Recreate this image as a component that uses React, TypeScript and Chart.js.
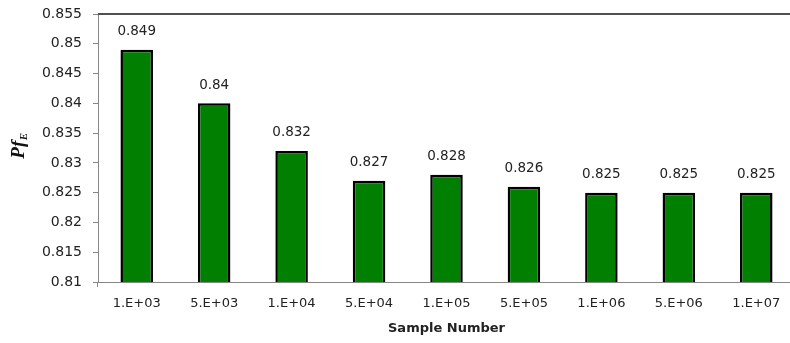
import React, { useEffect, useRef } from "react";
import { Chart, registerables } from "chart.js";

Chart.register(...registerables);

const categories = ["1.E+03", "5.E+03", "1.E+04", "5.E+04", "1.E+05", "5.E+05", "1.E+06", "5.E+06", "1.E+07"];
const pfValues = [0.849, 0.84, 0.832, 0.827, 0.828, 0.826, 0.825, 0.825, 0.825];
const yMin = 0.81;
const yMax = 0.855;
const yStep = 0.005;
const xTitle = "Sample Number";

const TEXT = "#222222";
const AXIS = "#868686";
const FONT = '"DejaVu Sans", sans-serif';

const fmt = (v: number) => String(parseFloat(v.toFixed(3)));

// Value labels above the bars, the frame line on top and the Pf_E axis title
const decorations = {
  id: "decorations",
  afterDatasetsDraw(chart: any) {
    const { ctx, chartArea } = chart;
    const meta = chart.getDatasetMeta(0);
    ctx.save();
    ctx.fillStyle = TEXT;
    ctx.font = `13.5px ${FONT}`;
    ctx.textAlign = "center";
    ctx.textBaseline = "middle";
    meta.data.forEach((bar: any, i: number) => {
      ctx.fillText(fmt(pfValues[i]), bar.x, bar.y - 18);
    });

    // frame line along the top of the plot area
    ctx.strokeStyle = "#505050";
    ctx.lineWidth = 2;
    ctx.beginPath();
    ctx.moveTo(chartArea.left, chartArea.top);
    ctx.lineTo(chartArea.right, chartArea.top);
    ctx.stroke();

    // short tick below the axis corner
    ctx.strokeStyle = AXIS;
    ctx.lineWidth = 1;
    ctx.beginPath();
    ctx.moveTo(chartArea.left - 0.5, chartArea.bottom);
    ctx.lineTo(chartArea.left - 0.5, chartArea.bottom + 5);
    ctx.stroke();

    // y axis title: Pf with subscript E
    const cy = (chartArea.top + chartArea.bottom) / 2 - 2;
    ctx.translate(24, cy);
    ctx.rotate(-Math.PI / 2);
    ctx.fillStyle = "#111111";
    ctx.textAlign = "left";
    ctx.textBaseline = "alphabetic";
    const main = 'italic bold 19px "Liberation Serif", serif';
    const sub = 'italic bold 11px "Liberation Serif", serif';
    ctx.font = main;
    const wMain = ctx.measureText("Pf").width;
    ctx.font = sub;
    const wSub = ctx.measureText("E").width;
    const x0 = -(wMain + wSub) / 2;
    ctx.font = main;
    ctx.fillText("Pf", x0, 0);
    ctx.font = sub;
    ctx.fillText("E", x0 + wMain + 0.5, 3);
    ctx.restore();
  },
};

export default function App() {
  const ref = useRef<HTMLCanvasElement>(null);

  useEffect(() => {
    if (!ref.current) return;
    const chart = new Chart(ref.current, {
      type: "bar",
      data: {
        labels: categories,
        datasets: [
          {
            data: pfValues,
            backgroundColor: "#007F00",
            borderColor: "#000000",
            borderWidth: 2.5,
            borderSkipped: false,
            categoryPercentage: 1,
            barPercentage: 0.42,
          },
        ],
      },
      options: {
        animation: false,
        responsive: false,
        devicePixelRatio: 1,
        layout: { padding: { top: 14, right: 0, bottom: 0, left: 0 } },
        plugins: {
          legend: { display: false },
          tooltip: { enabled: false },
        },
        scales: {
          x: {
            grid: { display: false, drawTicks: false },
            border: { display: true, color: AXIS, width: 1 },
            ticks: {
              color: TEXT,
              font: { family: FONT, size: 13 },
              padding: 14,
              maxRotation: 0,
              autoSkip: false,
            },
            title: {
              display: true,
              text: xTitle,
              color: TEXT,
              font: { family: FONT, size: 13, weight: "bold" },
              padding: { top: 8, bottom: 7 },
            },
            afterFit: (s: any) => {
              s.height = 61;
              s.paddingLeft = 0;
              s.paddingRight = 0;
            },
          },
          y: {
            min: yMin,
            max: yMax,
            grid: {
              display: true,
              drawOnChartArea: false,
              drawTicks: true,
              tickLength: 5,
              color: AXIS,
            },
            border: { display: true, color: AXIS, width: 1 },
            ticks: {
              stepSize: yStep,
              color: TEXT,
              font: { family: FONT, size: 14 },
              padding: 11,
              callback: (v: any) => fmt(Number(v)),
            },
            afterFit: (s: any) => {
              s.width = 98;
              s.paddingTop = 0;
              s.paddingBottom = 0;
            },
          },
        },
      },
      plugins: [decorations],
    });
    return () => chart.destroy();
  }, []);

  return (
    <div style={{ position: "absolute", left: 0, top: 0, width: 790, height: 343, overflow: "hidden", background: "#fff" }}>
      <canvas ref={ref} width={795} height={343} />
    </div>
  );
}
